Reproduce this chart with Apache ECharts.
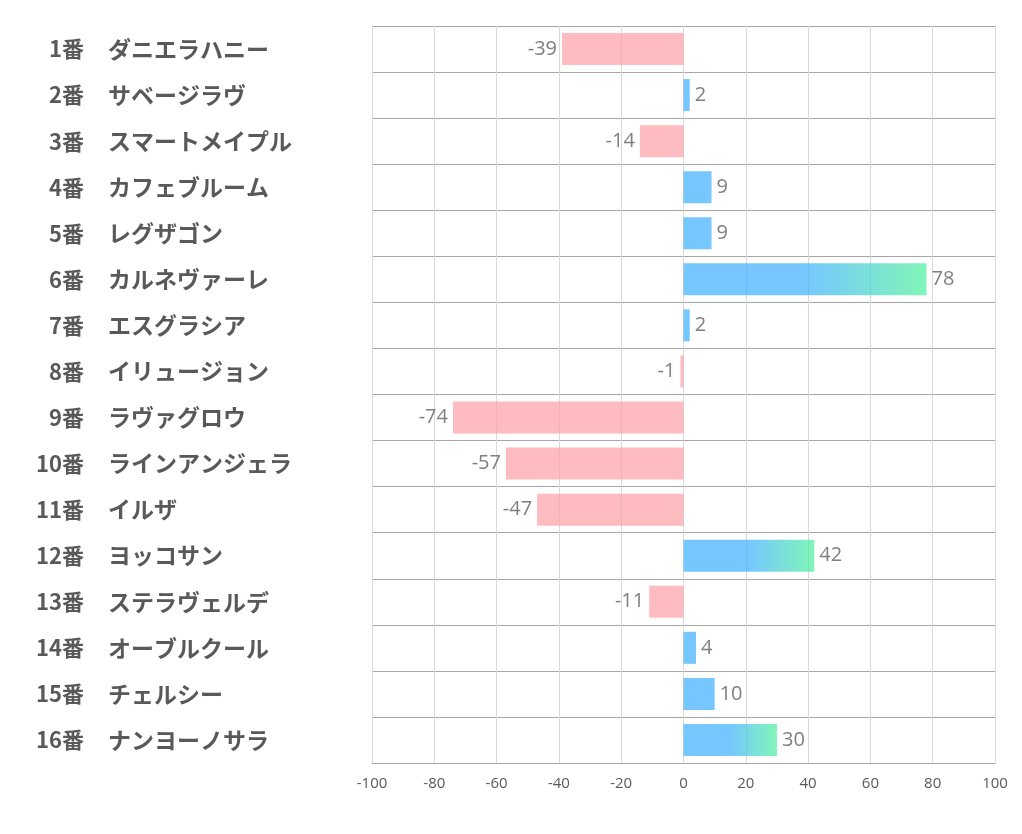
<!DOCTYPE html>
<html><head><meta charset="utf-8">
<script src="https://cdn.jsdelivr.net/npm/echarts@6/dist/echarts.min.js"></script>
<style>html,body{margin:0;padding:0;background:#fff}#c{width:1022px;height:834px}</style>
</head><body><div id="c"></div>
<script>
const numbers = ['1番','2番','3番','4番','5番','6番','7番','8番','9番','10番','11番','12番','13番','14番','15番','16番'];
const names = ['ダニエラハニー','サベージラヴ','スマートメイプル','カフェブルーム','レグザゴン','カルネヴァーレ','エスグラシア','イリュージョン','ラヴァグロウ','ラインアンジェラ','イルザ','ヨッコサン','ステラヴェルデ','オーブルクール','チェルシー','ナンヨーノサラ'];
const values = [-39, 2, -14, 9, 9, 78, 2, -1, -74, -57, -47, 42, -11, 4, 10, 30];
const xTicks = [-100, 100, 20];

const PINK = 'rgba(255,160,165,0.7)';
const BLUE = 'rgba(60,175,255,0.7)';
const GREEN = 'rgba(74,241,154,0.7)';
const data = values.map(v => {
  let color;
  if (v < 0) color = PINK;
  else if (v >= 20) color = new echarts.graphic.LinearGradient(0, 0, 1, 0, [
    {offset: 0, color: BLUE}, {offset: 0.5, color: BLUE}, {offset: 1, color: GREEN}]);
  else color = BLUE;
  return {value: v, itemStyle: {color}, label: {position: v < 0 ? 'left' : 'right'}};
});
const labelFont = {color: '#595959', fontWeight: 'bold', fontFamily: '"Noto Sans CJK JP", sans-serif'};
const chart = echarts.init(document.getElementById('c'));
chart.setOption({
  animation: false,
  grid: {left: 372, right: 27, top: 26, bottom: 71, containLabel: false},
  xAxis: {
    type: 'value', min: xTicks[0], max: xTicks[1], interval: xTicks[2],
    axisLine: {show: true, lineStyle: {color: '#a6a6a6', width: 1}},
    axisTick: {show: false},
    axisLabel: {color: '#595959', fontSize: 15, fontFamily: 'Open Sans, sans-serif', margin: 13},
    splitLine: {show: true, lineStyle: {color: '#d9d9d9', width: 1}}
  },
  yAxis: [{
    type: 'category', data: numbers, inverse: true, position: 'left',
    axisLine: {show: false}, axisTick: {show: false},
    splitLine: {show: true, lineStyle: {color: '#a6a6a6', width: 1}},
    axisLabel: Object.assign({align: 'right', margin: 288, fontSize: 22}, labelFont)
  }, {
    type: 'category', data: names, inverse: true, position: 'left', offset: 0,
    axisLine: {show: false}, axisTick: {show: false}, splitLine: {show: false},
    axisLabel: Object.assign({align: 'left', margin: 264, fontSize: 23}, labelFont)
  }],
  series: [{
    type: 'bar', data: data, barWidth: 32, yAxisIndex: 0,
    label: {show: true, color: '#7f7f7f', fontSize: 20, fontFamily: 'Open Sans, sans-serif', distance: 5}
  }]
});
</script></body></html>
